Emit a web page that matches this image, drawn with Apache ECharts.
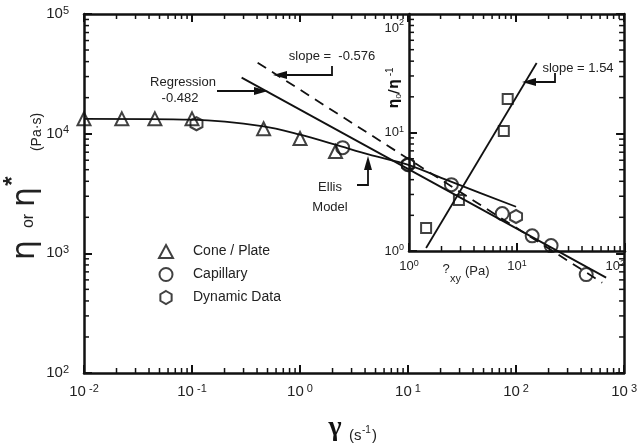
<!DOCTYPE html>
<html>
<head>
<meta charset="utf-8">
<script src="https://cdn.jsdelivr.net/npm/echarts@6/dist/echarts.min.js"></script>
<style>
  html, body { margin: 0; padding: 0; background: #fff; }
  #chart { width: 640px; height: 446px; }
</style>
</head>
<body>
<div id="chart"></div>
<script>
// data
var conePlate = [[0.01, 13300], [0.0224, 13300], [0.0453, 13300], [0.1, 13300], [0.46, 11000], [1.0, 9100], [2.13, 7100]];
var capillary = [[2.48, 7640], [10, 5510], [25.2, 3750], [74.5, 2150], [141, 1400], [211, 1160], [446, 664]];
var dynamicData = [[0.11, 12100], [10, 5510], [100, 2030]];
var ellisModel = [[0.01, 13300], [0.1, 13080], [0.46, 11530], [1.0, 9810], [2.13, 8090], [4.38, 6680], [9.9, 5510], [25, 3970], [100, 2450]];
var regressionLine = [[0.288, 29400], [682, 627]];
var slopeLine = [[0.405, 39200], [627, 569]];
var insetSquares = [[1.44, 1.56], [2.9, 2.69], [7.55, 10.3], [8.2, 19.2]];
var insetFit = [[1.44, 1.06], [15.2, 38.6]];

var mainX = [0.01, 1000];
var mainY = [100, 100000];
var insetX = [1, 100];
var insetY = [1, 100];

var ink = '#111';
var txt = '#222';
var font = 'Liberation Sans, Arial, sans-serif';

var myChart = echarts.init(document.getElementById('chart'));

// minor ticks of a log axis: 2..9 in each decade
function minorTicks(lo, hi) {
  var out = [];
  for (var e = lo; e < hi; e++) {
    for (var m = 2; m <= 9; m++) out.push(m * Math.pow(10, e));
  }
  return out;
}

function tickData(xs, ys, x0, y0) {
  var d = [];
  xs.forEach(function (v) { d.push([v, y0, 0]); });
  ys.forEach(function (v) { d.push([x0, v, 1]); });
  return d;
}

function tickItem(sides) {
  return function (params, api) {
    var cs = params.coordSys;
    var p = api.coord([api.value(0), api.value(1)]);
    var st = { stroke: ink, lineWidth: 1.5 };
    var len = 5;
    var kids = [];
    if (api.value(2) === 0) {
      if (sides.indexOf('b') >= 0) kids.push({ type: 'line', shape: { x1: p[0], y1: cs.y + cs.height, x2: p[0], y2: cs.y + cs.height - len }, style: st });
      if (sides.indexOf('t') >= 0) kids.push({ type: 'line', shape: { x1: p[0], y1: cs.y, x2: p[0], y2: cs.y + len }, style: st });
    } else {
      if (sides.indexOf('l') >= 0) kids.push({ type: 'line', shape: { x1: cs.x, y1: p[1], x2: cs.x + len, y2: p[1] }, style: st });
      if (sides.indexOf('r') >= 0) kids.push({ type: 'line', shape: { x1: cs.x + cs.width, y1: p[1], x2: cs.x + cs.width - len, y2: p[1] }, style: st });
    }
    return { type: 'group', children: kids };
  };
}

function powLabel(space) {
  return function (v) {
    var e = Math.round(Math.log10(v));
    return '{b|10}{s|' + space + e + '}';
  };
}

function richPow(big, small, h) {
  return {
    b: { fontSize: big, color: txt, fontFamily: font, lineHeight: h },
    s: { fontSize: small, color: txt, fontFamily: font, verticalAlign: 'top' }
  };
}

function axisBase(extra) {
  var a = {
    type: 'log',
    logBase: 10,
    axisLine: { show: true, onZero: false, lineStyle: { color: ink, width: 2.5 } },
    axisTick: { show: true, inside: true, length: 8, lineStyle: { color: ink, width: 2 } },
    splitLine: { show: false },
    minorTick: { show: false }
  };
  for (var k in extra) a[k] = extra[k];
  return a;
}

// arrow: polyline with a filled head at the last point
function arrow(pts) {
  var n = pts.length;
  var a = pts[n - 2], b = pts[n - 1];
  var dx = b[0] - a[0], dy = b[1] - a[1];
  var L = Math.sqrt(dx * dx + dy * dy);
  var ux = dx / L, uy = dy / L;
  var hl = 14, hw = 4;
  var bx = b[0] - ux * hl, by = b[1] - uy * hl;
  var line = pts.slice(0, n - 1).concat([[bx + ux * 2, by + uy * 2]]);
  return [
    { type: 'polyline', shape: { points: line }, style: { stroke: ink, lineWidth: 1.8, fill: null } },
    { type: 'polygon', shape: { points: [[b[0], b[1]], [bx - uy * hw, by + ux * hw], [bx + uy * hw, by - ux * hw]] }, style: { fill: ink } }
  ];
}

function label(text, x, y, size, extra) {
  var s = { text: text, x: 0, y: 0, fill: txt, font: size + 'px ' + font, textAlign: 'center', textVerticalAlign: 'middle' };
  if (extra) for (var k in extra) s[k] = extra[k];
  return { type: 'text', x: x, y: y, style: s };
}

function rotLabel(text, x, y, fontStr, extra) {
  var s = { text: text, x: 0, y: 0, fill: txt, font: fontStr, textAlign: 'center', textVerticalAlign: 'middle' };
  if (extra) for (var k in extra) s[k] = extra[k];
  return { type: 'text', x: x, y: y, rotation: Math.PI / 2, style: s };
}

var hexagon = 'path://M0,-10L8.66,-5L8.66,5L0,10L-8.66,5L-8.66,-5Z';
var hollow = { color: 'rgba(0,0,0,0)', borderColor: ink, borderWidth: 2 };

var graphics = []
  .concat(arrow([[332, 66], [332, 75], [273, 75]]))
  .concat(arrow([[217, 91], [268, 91]]))
  .concat(arrow([[357, 185], [368, 185], [368, 156]]))
  .concat(arrow([[555, 73], [555, 82], [522, 82]]))
  .concat([
    label('slope =  -0.576', 332, 56, 13),
    label('Regression', 183, 82, 13),
    label('-0.482', 180, 98, 13),
    label('Ellis', 330, 187, 13),
    label('Model', 330, 207, 13),
    label('slope = 1.54', 578, 68, 13),
    // inset top y label (kept clear of the frame)
    label('10', 399, 28, 13, { textAlign: 'right' }),
    label('2', 399, 23, 9, { textAlign: 'left' }),
    // x title
    { type: 'text', x: 335, y: 428, style: { text: 'γ', x: 0, y: 0, fill: ink, font: 'bold 28px Liberation Serif, serif', textAlign: 'center', textVerticalAlign: 'middle' } },
    label('(s', 349, 436, 15, { textAlign: 'left' }),
    label('-1', 362, 430, 10, { textAlign: 'left' }),
    label(')', 372, 436, 15, { textAlign: 'left' }),
    // y title
    rotLabel('η', 26, 250, '32px DejaVu Sans, sans-serif'),
    rotLabel('or', 29, 221, '16px ' + font),
    rotLabel('η', 26, 197, '32px DejaVu Sans, sans-serif'),
    rotLabel('*', 13, 181, 'bold 24px ' + font),
    rotLabel('(Pa·s)', 37, 132, '14px ' + font),
    // inset titles
    label('?', 446, 269, 13),
    label('xy', 450, 279, 11, { textAlign: 'left' }),
    label('(Pa)', 465, 271, 13, { textAlign: 'left' }),
    {
      type: 'text', x: 394, y: 88, rotation: Math.PI / 2,
      style: {
        text: '{e|η}{u|0}{e|/η}{p| -1}', x: 0, y: 0, textAlign: 'center', textVerticalAlign: 'middle',
        rich: {
          e: { fontSize: 14, fontWeight: 'bold', fontFamily: 'DejaVu Sans, sans-serif', fill: ink, lineHeight: 18 },
          u: { fontSize: 8, fontFamily: font, fill: ink, verticalAlign: 'bottom' },
          p: { fontSize: 10, fontFamily: font, fill: txt, verticalAlign: 'top' }
        }
      }
    }
  ]);

var option = {
  animation: false,
  backgroundColor: '#fff',
  grid: [
    { left: 84, top: 14, width: 541, height: 359 },
    { left: 409, top: 14, width: 216, height: 237 }
  ],
  legend: {
    data: ['Cone / Plate', 'Capillary', 'Dynamic Data'],
    orient: 'vertical',
    left: 153,
    top: 239,
    itemWidth: 14,
    itemHeight: 13,
    itemGap: 8,
    selectedMode: false,
    textStyle: { fontSize: 14, color: txt, fontFamily: font, padding: [0, 0, 0, 15] }
  },
  xAxis: [
    axisBase({
      gridIndex: 0, position: 'bottom', min: mainX[0], max: mainX[1], splitNumber: 5,
      axisLabel: { margin: 10, formatter: powLabel(' '), rich: richPow(15, 11, 18) }
    }),
    axisBase({ gridIndex: 0, position: 'top', min: mainX[0], max: mainX[1], splitNumber: 5, axisLabel: { show: false } }),
    axisBase({
      gridIndex: 1, position: 'bottom', min: insetX[0], max: insetX[1], splitNumber: 2,
      axisLabel: { margin: 8, formatter: powLabel(''), rich: richPow(13, 9, 15), alignMaxLabel: 'right' }
    })
  ],
  yAxis: [
    axisBase({
      gridIndex: 0, position: 'left', min: mainY[0], max: mainY[1], splitNumber: 3,
      axisLabel: { margin: 15, formatter: powLabel(''), rich: richPow(15, 11, 18) }
    }),
    axisBase({ gridIndex: 0, position: 'right', min: mainY[0], max: mainY[1], splitNumber: 3, axisLabel: { show: false } }),
    axisBase({
      gridIndex: 1, position: 'left', min: insetY[0], max: insetY[1], splitNumber: 2,
      axisLabel: { margin: 5, formatter: powLabel(''), rich: richPow(13, 9, 15), showMaxLabel: false }
    })
  ],
  series: [
    {
      name: 'ticks', type: 'custom', xAxisIndex: 0, yAxisIndex: 0, silent: true, clip: false, z: 1,
      renderItem: tickItem('btlr'),
      data: tickData(minorTicks(-2, 3), minorTicks(2, 5), mainX[0], mainY[0])
    },
    {
      name: 'insetTicks', type: 'custom', xAxisIndex: 2, yAxisIndex: 2, silent: true, clip: false, z: 1,
      renderItem: tickItem('bl'),
      data: tickData(minorTicks(0, 2), minorTicks(0, 2), insetX[0], insetY[0])
    },
    {
      name: 'Ellis Model', type: 'line', xAxisIndex: 0, yAxisIndex: 0, data: ellisModel,
      showSymbol: false, smooth: 0.3, lineStyle: { color: ink, width: 1.8 }, z: 2
    },
    {
      name: 'Regression', type: 'line', xAxisIndex: 0, yAxisIndex: 0, data: regressionLine,
      showSymbol: false, lineStyle: { color: ink, width: 1.8 }, z: 2
    },
    {
      name: 'Slope', type: 'line', xAxisIndex: 0, yAxisIndex: 0, data: slopeLine,
      showSymbol: false, lineStyle: { color: ink, width: 1.8, type: [10, 7] }, z: 2
    },
    {
      name: 'Cone / Plate', type: 'scatter', xAxisIndex: 0, yAxisIndex: 0, data: conePlate,
      symbol: 'triangle', symbolSize: 13, itemStyle: hollow, z: 3
    },
    {
      name: 'Capillary', type: 'scatter', xAxisIndex: 0, yAxisIndex: 0, data: capillary,
      symbol: 'circle', symbolSize: 13, itemStyle: hollow, z: 3
    },
    {
      name: 'Dynamic Data', type: 'scatter', xAxisIndex: 0, yAxisIndex: 0, data: dynamicData,
      symbol: hexagon, symbolSize: [12, 13], itemStyle: hollow, z: 3
    },
    {
      name: 'Inset', type: 'scatter', xAxisIndex: 2, yAxisIndex: 2, data: insetSquares,
      symbol: 'rect', symbolSize: 10, itemStyle: hollow, z: 3
    },
    {
      name: 'Inset fit', type: 'line', xAxisIndex: 2, yAxisIndex: 2, data: insetFit,
      showSymbol: false, lineStyle: { color: ink, width: 1.8 }, z: 2
    }
  ],
  graphic: graphics
};

myChart.setOption(option);
window.addEventListener('resize', function () {
  myChart.resize();
});
</script>
</body>
</html>
